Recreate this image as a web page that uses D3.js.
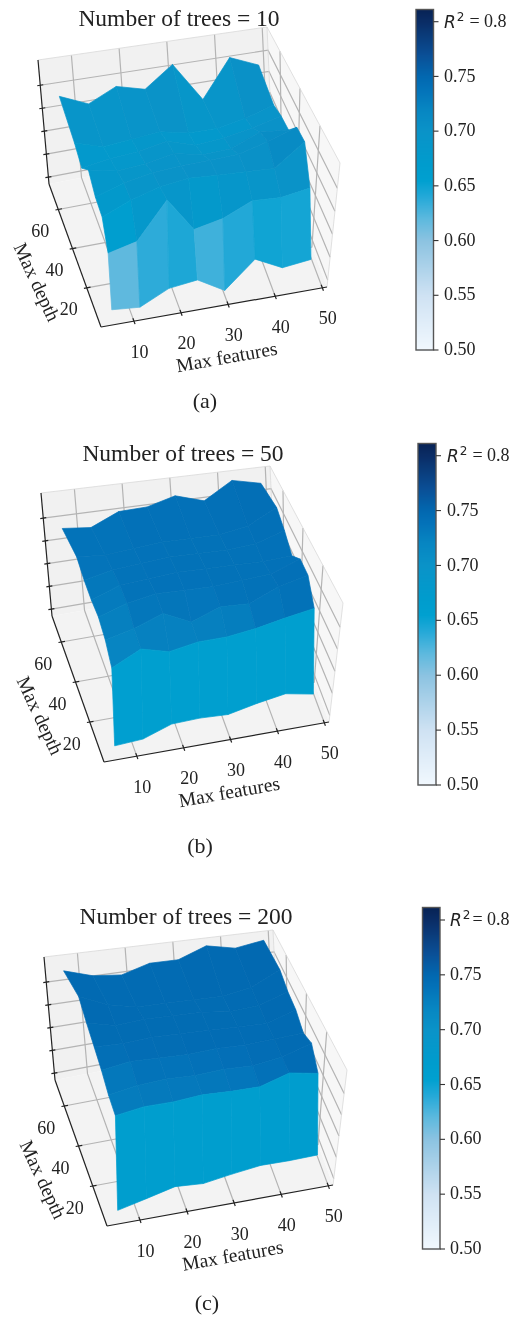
<!DOCTYPE html>
<html><head><meta charset="utf-8">
<script src="https://cdn.jsdelivr.net/npm/d3@7"></script>
<style>html,body{margin:0;padding:0;background:#fff;overflow:hidden}svg{display:block;filter:blur(.4px)}</style>
</head><body><div id="chart"></div>
<script>
const maxFeatures=[6,12,18,24,30,36,42,48];
const maxDepth=[5,12,20,28,36,44,52,68];
const featureTicks=[10,20,30,40,50];
const depthTicks=[20,40,60];
const zTicks=[.58,.62,.66,.70,.74];
const barTicks=[.5,.55,.6,.65,.7,.75,.8];
const treeCounts=[10,50,200];
const captions=["(a)","(b)","(c)"];
const r2Trees10=[
[.576,.572,.595,.601,.575,.620,.597,.603],
[.646,.658,.720,.663,.674,.697,.695,.704],
[.681,.702,.717,.724,.722,.721,.719,.759],
[.689,.705,.715,.720,.722,.725,.740,.758],
[.709,.700,.705,.715,.705,.708,.730,.726],
[.687,.695,.700,.710,.695,.700,.710,.724],
[.704,.690,.695,.700,.690,.690,.700,.716],
[.733,.712,.735,.722,.759,.687,.756,.734]];
const r2Trees50=[
[.574,.577,.594,.596,.594,.605,.614,.605],
[.679,.704,.693,.703,.705,.713,.725,.736],
[.700,.713,.732,.711,.731,.730,.754,.769],
[.713,.730,.740,.740,.740,.745,.750,.771],
[.716,.735,.740,.745,.745,.745,.745,.749],
[.724,.735,.740,.745,.745,.745,.750,.768],
[.738,.735,.740,.745,.745,.745,.755,.783],
[.735,.730,.752,.754,.768,.752,.784,.772]];
const r2Trees200=[
[.573,.584,.596,.593,.601,.608,.608,.610],
[.706,.715,.717,.723,.723,.725,.744,.737],
[.715,.725,.730,.730,.735,.735,.745,.765],
[.731,.740,.740,.740,.745,.745,.750,.755],
[.745,.745,.750,.750,.750,.750,.750,.770],
[.760,.750,.755,.755,.755,.750,.755,.775],
[.780,.760,.750,.750,.750,.750,.760,.788],
[.773,.758,.753,.768,.768,.788,.777,.786]];
const surfaces=[r2Trees10,r2Trees50,r2Trees200];

const colorStops=[.5,.55,.6,.62,.64,.655,.67,.70,.72,.74,.75,.77,.80,.81];
const colorValues=["#f1f8fe","#cfe2f3","#8cc3e1","#5db9de","#25a9d8","#00a0d0","#009ccd","#0a93c8","#0786c2","#0371b8","#0268b0","#0a4f96","#0a2d66","#082457"];
const color=d3.scaleLinear().domain(colorStops).range(colorValues).clamp(true);

// how the mean height of a face reads on the colour bar, per panel
const toneScales=[
 d3.scaleLinear().domain([.57,.615,.64,.69,.71,.73,.76,.80]).range([.60,.62,.64,.675,.695,.705,.72,.73]).clamp(true),
 d3.scaleLinear().domain([.60,.67,.69,.72,.735,.75,.80]).range([.655,.66,.718,.728,.738,.74,.745]).clamp(true),
 d3.scaleLinear().domain([.60,.675,.70,.725,.745,.80]).range([.66,.665,.725,.732,.745,.752]).clamp(true)];

const layouts=[
 {FL:[101,327],FR:[327,287],BL:[49,184],BR:[272,141],TFL:[108,193],TFR:[340,163],TBL:[38,60],TBR:[267,27],
  title:[179,21],cap:[205,403],bar:{x:416,w:17.5,y5:350,y8:21.7,top:9.5,lx:444,gap:5}},
 {FL:[104,762],FR:[329,722],BL:[52,616],BR:[275,577],TFL:[111,628],TFR:[343,603],TBL:[41,493],TBR:[270,466],
  title:[183,456],cap:[200,848],bar:{x:418,w:18,y5:785,y8:455.7,top:443.5,lx:447,gap:5}},
 {FL:[107,1226],FR:[333,1185],BL:[55,1080],BR:[278,1037],TFL:[114,1092],TFR:[347,1070],TBL:[44,957],TBR:[273,930],
  title:[186,919],cap:[207,1305],bar:{x:422.5,w:17.5,y5:1249,y8:920,top:907.5,lx:450,gap:2}}];

const xS=d3.scaleLinear().domain([3,51]).range([0,1]);
const yS=d3.scaleLinear().domain([0,73]).range([0,1]);
const zS=d3.scaleLinear().domain([.568,.784]).range([0,1]);
const zMin=zS.domain()[0], zMax=zS.domain()[1];
const [fMin,fMax]=xS.domain(), [dMin,dMax]=yS.domain();

const svg=d3.select("#chart").append("svg").attr("width",511).attr("height",1320);
const serif="'Liberation Serif',serif";

function projector(L){
  const bi=(a,b,c,d,u,v)=>{
    const f=d3.interpolateNumber;
    return [0,1].map(i=>f(f(a[i],b[i])(u),f(c[i],d[i])(u))(v));
  };
  return (fx,dp,z)=>{
    const u=xS(fx),v=yS(dp),w=zS(z);
    const p0=bi(L.FL,L.FR,L.BL,L.BR,u,v),p1=bi(L.TFL,L.TFR,L.TBL,L.TBR,u,v);
    return [p0[0]+(p1[0]-p0[0])*w,p0[1]+(p1[1]-p0[1])*w];
  };
}
const line=d3.line();

layouts.forEach((L,k)=>{
  const P=projector(L), g=svg.append("g");
  const poly=(pts,fill)=>g.append("path").attr("d",line(pts)+"Z").attr("fill",fill);
  poly([P(fMin,dMin,zMin),P(fMax,dMin,zMin),P(fMax,dMax,zMin),P(fMin,dMax,zMin)],"#f3f3f3");
  poly([P(fMin,dMax,zMin),P(fMax,dMax,zMin),P(fMax,dMax,zMax),P(fMin,dMax,zMax)],"#f1f1f1");
  poly([P(fMax,dMin,zMin),P(fMax,dMax,zMin),P(fMax,dMax,zMax),P(fMax,dMin,zMax)],"#f7f7f7");
  const grid=pts=>g.append("path").attr("d",line(pts)).attr("fill","none").attr("stroke","#b4b4b4").attr("stroke-width",1.2);
  featureTicks.forEach(t=>grid([P(t,dMin,zMin),P(t,dMax,zMin),P(t,dMax,zMax)]));
  depthTicks.forEach(t=>grid([P(fMin,t,zMin),P(fMax,t,zMin),P(fMax,t,zMax)]));
  zTicks.forEach(t=>grid([P(fMin,dMax,t),P(fMax,dMax,t),P(fMax,dMin,t)]));
  const edge=pts=>g.append("path").attr("d",line(pts)).attr("fill","none").attr("stroke","#d9d9d9").attr("stroke-width",.8);
  edge([P(fMin,dMax,zMax),P(fMax,dMax,zMax),P(fMax,dMin,zMax)]);
  edge([P(fMax,dMax,zMin),P(fMax,dMax,zMax)]);
  edge([P(fMax,dMin,zMin),P(fMax,dMin,zMax)]);
  const ax=pts=>g.append("path").attr("d",line(pts)).attr("fill","none").attr("stroke","#222").attr("stroke-width",1.2);
  ax([P(fMin,dMin,zMin),P(fMax,dMin,zMin)]);
  ax([P(fMin,dMin,zMin),P(fMin,dMax,zMin)]);
  ax([P(fMin,dMax,zMin),P(fMin,dMax,zMax)]);
  const txt=(x,y,s,size,rot)=>g.append("text").attr("x",x).attr("y",y).attr("text-anchor","middle")
     .attr("dominant-baseline","middle").attr("font-family",serif).attr("font-size",size).attr("fill","#222")
     .attr("transform",rot?`rotate(${rot},${x},${y})`:null).text(s);
  featureTicks.forEach(t=>{
    ax([P(t,dMin+1.5,zMin),P(t,dMin-1.5,zMin)]);
    const c=P(t,dMin,zMin);
    txt(c[0]+5.5,c[1]+32.5,t,18);
  });
  depthTicks.forEach(t=>{
    ax([P(fMin+.8,t,zMin),P(fMin-.6,t,zMin)]);
    const c=P(fMin,t,zMin);
    txt(c[0]-18,c[1]+23.5,t,18);
  });
  zTicks.forEach(t=>{
    const c=P(fMin,dMax,t);
    ax([[c[0]-3,c[1]+.5],[c[0]+3,c[1]-.5]]);
  });
  const mf=P((fMin+fMax)/2,dMin,zMin), md=P(fMin,(dMin+dMax)/2,zMin);
  txt(mf[0]+13,mf[1]+52,"Max features",19.5,-10);
  txt(md[0]-40,md[1]+27.5,"Max depth",19.5,65);
  txt(L.title[0],L.title[1],`Number of trees = ${treeCounts[k]}`,23.5);
  txt(L.cap[0],L.cap[1],captions[k],22);

  const Z=surfaces[k], faces=[], tone=toneScales[k];
  for(let r=0;r<maxDepth.length-1;r++)for(let c=0;c<maxFeatures.length-1;c++){
    const corners=[[c,r],[c+1,r],[c+1,r+1],[c,r+1]];
    const pts=corners.map(([i,j])=>P(maxFeatures[i],maxDepth[j],Z[j][i]));
    faces.push({r,c,pts,z:d3.mean(corners,([i,j])=>Z[j][i])});
  }
  faces.sort((a,b)=>d3.descending(a.r,b.r)||d3.ascending(a.c,b.c));
  const fc=d=>color(tone(d.z));
  g.append("g").selectAll("path").data(faces).join("path")
    .attr("d",d=>line(d.pts)+"Z").attr("fill",fc).attr("stroke",fc).attr("stroke-width",.7).attr("stroke-linejoin","round");

  const B=L.bar, by=d3.scaleLinear().domain([.5,.8]).range([B.y5,B.y8]);
  const cb=svg.append("g");
  d3.range(Math.floor(B.top),B.y5+1).forEach(y=>cb.append("rect").attr("x",B.x).attr("y",y).attr("width",B.w).attr("height",1.2).attr("fill",color(by.invert(y))));
  cb.append("rect").attr("x",B.x).attr("y",B.top).attr("width",B.w).attr("height",B.y5-B.top).attr("fill","none").attr("stroke","#555").attr("stroke-width",1.4);
  barTicks.forEach(t=>{
    const y=by(t);
    cb.append("line").attr("x1",B.x+B.w).attr("x2",B.x+B.w+5).attr("y1",y).attr("y2",y).attr("stroke","#333").attr("stroke-width",1.1);
    if(t<.8){
      cb.append("text").attr("x",B.lx).attr("y",y+1).attr("dominant-baseline","middle").attr("font-family",serif)
        .attr("font-size",18).attr("fill","#222").text(t.toFixed(2));
    } else {
      const tx=cb.append("text").attr("x",B.lx).attr("y",y+1).attr("dominant-baseline","middle").attr("fill","#222");
      tx.append("tspan").attr("font-family","'DejaVu Sans',sans-serif").attr("font-style","italic").attr("font-size",17).text("R");
      tx.append("tspan").attr("font-family","'DejaVu Sans',sans-serif").attr("font-size",12).attr("dy",-6).attr("dx",1).text("2");
      tx.append("tspan").attr("font-family",serif).attr("font-size",18).attr("dy",6).attr("dx",B.gap).text("= 0.8");
    }
  });
});
</script></body></html>
